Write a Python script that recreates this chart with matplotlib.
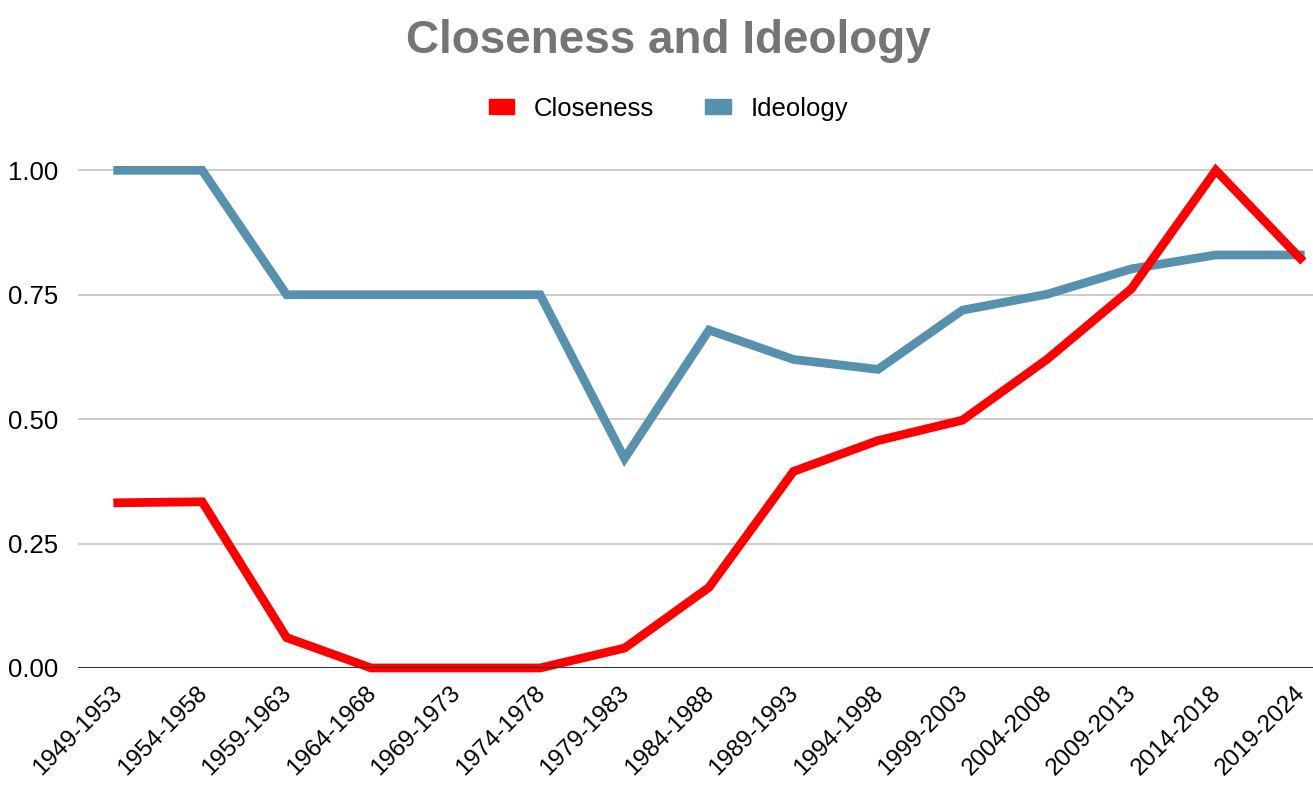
import matplotlib.pyplot as plt
from matplotlib.patches import Patch
from matplotlib.transforms import ScaledTranslation

plt.rcParams['font.family'] = ['Liberation Sans', 'DejaVu Sans']

periods = ["1949-1953", "1954-1958", "1959-1963", "1964-1968", "1969-1973",
           "1974-1978", "1979-1983", "1984-1988", "1989-1993", "1994-1998",
           "1999-2003", "2004-2008", "2009-2013", "2014-2018", "2019-2024"]
closeness = [0.332, 0.334, 0.061, 0.0, 0.0, 0.0, 0.040, 0.162, 0.395, 0.457,
             0.498, 0.620, 0.762, 1.0, 0.823]
ideology = [1.0, 1.0, 0.75, 0.75, 0.75, 0.75, 0.421, 0.679, 0.620, 0.600,
            0.719, 0.751, 0.802, 0.830, 0.830]

red = "#FF0000"
blue = "#5891AD"

fig = plt.figure(figsize=(13.13, 7.94), dpi=100)
ax = fig.add_axes([0.0594, 0.1587, 0.9406, 0.6393])

x = range(len(periods))
ax.plot(x, closeness, color=red, lw=6.3, solid_joinstyle='miter', zorder=3, clip_on=False)
ax.plot(x, ideology, color=blue, lw=6.3, solid_joinstyle='miter', zorder=2, clip_on=False)

ax.set_xlim(-0.47, 14.15)
ax.set_ylim(0, 1.02)
ax.set_yticks([0, 0.25, 0.5, 0.75, 1.0])
ax.set_yticklabels(["0.00", "0.25", "0.50", "0.75", "1.00"], fontsize=18.5)
ax.grid(axis='y', color='#CCCCCC', lw=1.4)
ax.axhline(0, color='#333333', lw=1.5, zorder=4)
ax.set_axisbelow(True)

ax.set_xticks(list(x))
ax.set_xticklabels(periods, fontsize=17.5, rotation=45, ha='right', va='top',
                   rotation_mode='anchor')
ax.tick_params(axis='both', length=0)
ax.tick_params(axis='x', pad=10)
ax.tick_params(axis='y', pad=14)

# nudge the slanted period labels a little left so the last one stays inside
shift = ScaledTranslation(-6 / 100, 0, fig.dpi_scale_trans)
for lbl in ax.get_xticklabels():
    lbl.set_transform(lbl.get_transform() + shift)

for s in ax.spines.values():
    s.set_visible(False)

fig.suptitle("Closeness and Ideology", x=0.509, y=0.976, fontsize=33,
             fontweight='bold', color='#757575', va='top')

handles = [Patch(color=red, label="Closeness"), Patch(color=blue, label="Ideology")]
fig.legend(handles=handles, loc='center', bbox_to_anchor=(0.509, 0.863), ncol=2,
           frameon=False, fontsize=18.5, handlelength=1.0, handleheight=0.55,
           handletextpad=0.75, columnspacing=2.0)

fig.savefig("out.png", dpi=100)
